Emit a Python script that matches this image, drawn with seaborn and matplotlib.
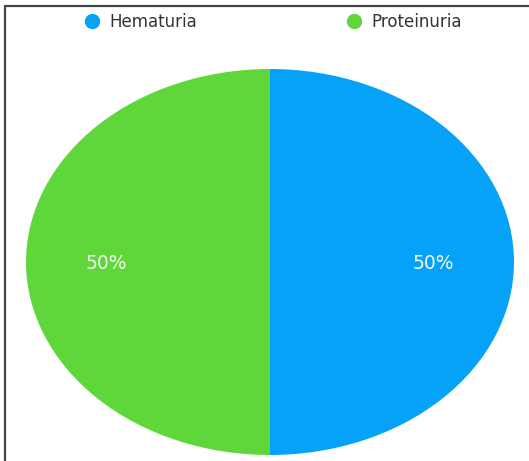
import matplotlib
matplotlib.use("Agg")
import matplotlib.pyplot as plt
from matplotlib.lines import Line2D
import seaborn as sns

categories = ["Hematuria", "Proteinuria"]
values = [50, 50]
colors = ["#05A2F7", "#5FD73A"]

sns.set_theme(style="white")
plt.rcParams['font.family'] = ['DejaVu Sans']
palette = sns.color_palette(colors)

W, H = 529, 461
fig = plt.figure(figsize=(W / 100, H / 100), dpi=100)
fig.patch.set_facecolor("white")

# pie axes spanning the ellipse box
left, right, top, bottom = 26, 514, 69, 455
ax = fig.add_axes([left / W, (H - bottom) / H, (right - left) / W, (bottom - top) / H])
wedges, texts, autotexts = ax.pie(
    values, colors=palette, startangle=90, counterclock=False,
    autopct=lambda p: f"{p:.0f}%", pctdistance=0.67,
    textprops=dict(color="#F2F8F0", fontsize=13.5),
    wedgeprops=dict(linewidth=0),
)
for t in autotexts:
    x, y = t.get_position()
    t.set_position((x, y - 0.01))
ax.set_aspect("auto")
ax.set_xlim(-1, 1)
ax.set_ylim(-1, 1)
ax.axis("off")

handles = [Line2D([0], [0], marker="o", linestyle="", markersize=10,
                  markerfacecolor=c, markeredgecolor=c) for c in palette]
fig.legend(handles, categories, loc="center left", ncol=2, frameon=False,
           bbox_to_anchor=(84 / W, 1 - 22 / H), fontsize=12,
           handletextpad=0.55, columnspacing=8.9, handlelength=1.0,
           borderaxespad=0, borderpad=0, labelcolor="#333333")

# frame lines (top and left)
fig.add_artist(Line2D([5 / W, 1], [1 - 6 / H, 1 - 6 / H], color="#444444", lw=1.6,
                      transform=fig.transFigure))
fig.add_artist(Line2D([5 / W, 5 / W], [0, 1 - 6 / H], color="#444444", lw=1.6,
                      transform=fig.transFigure))

fig.savefig("out.png", dpi=100)
